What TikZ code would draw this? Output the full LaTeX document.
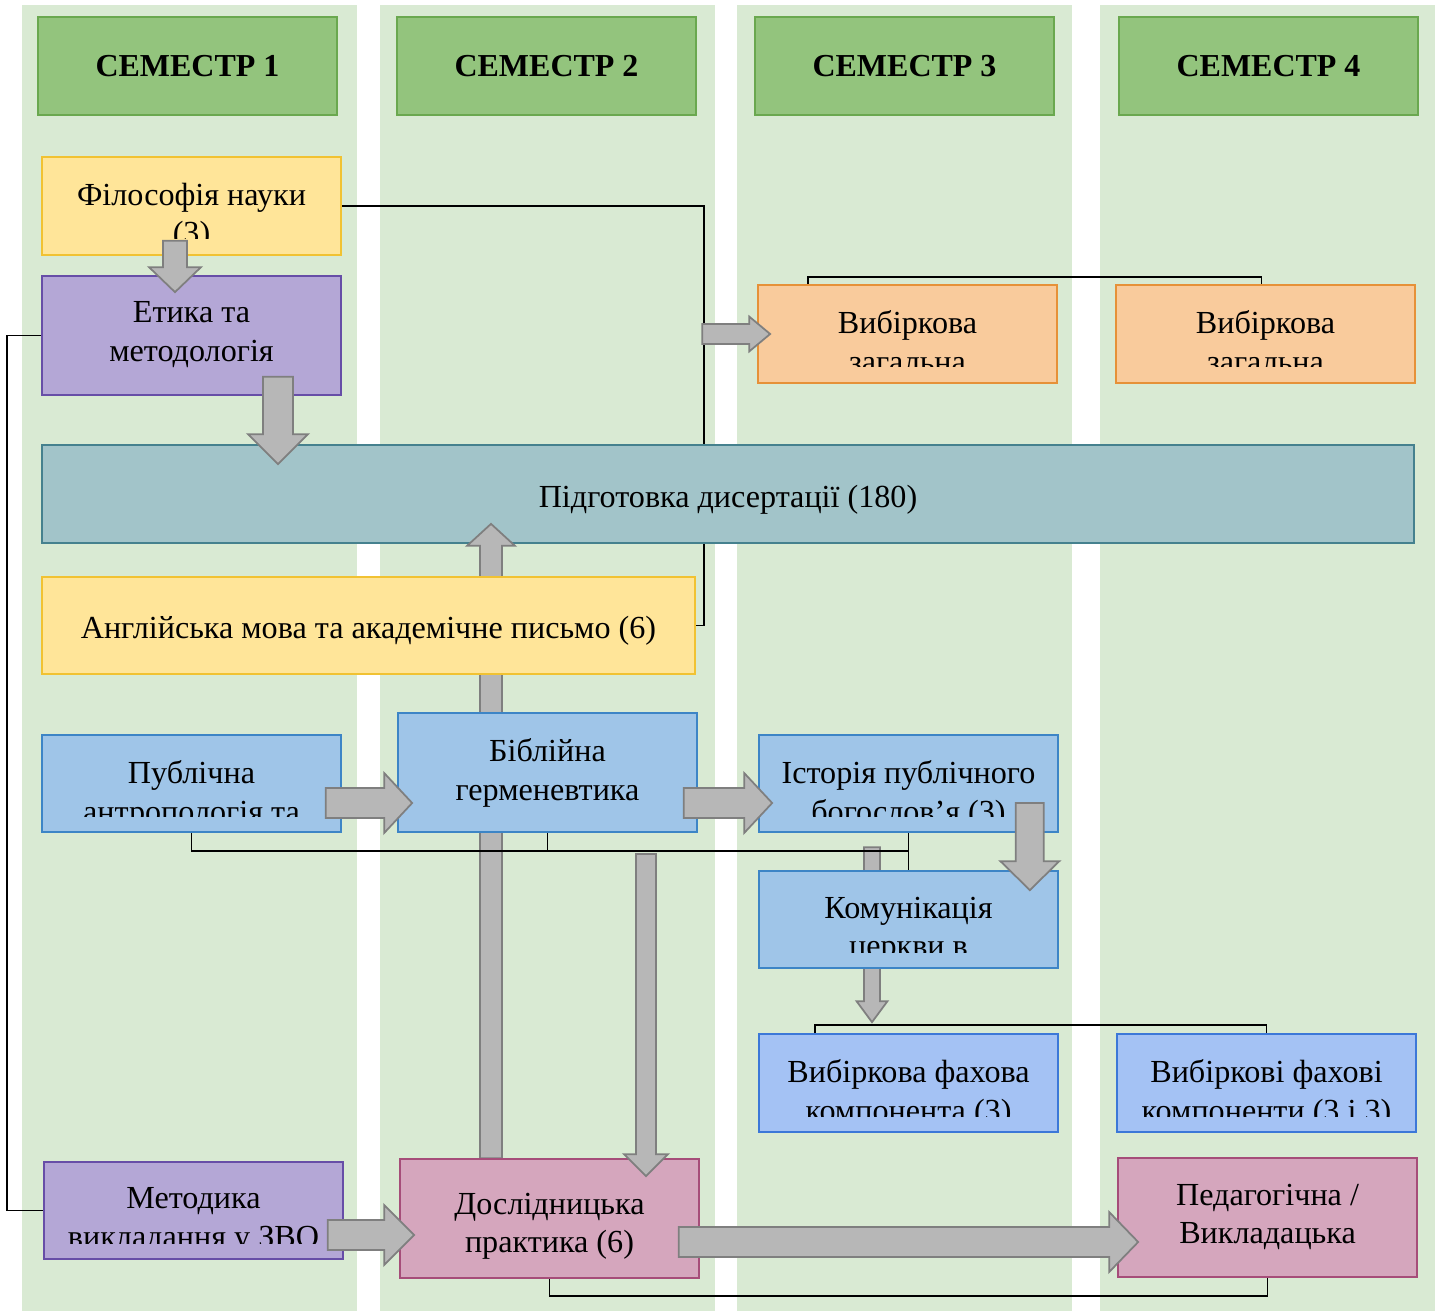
\documentclass[tikz,border=0pt]{standalone}
\usepackage{fontspec}
\setmainfont{Liberation Serif}
\usepackage{tikz}
\usetikzlibrary{calc, positioning}
\pgfdeclarelayer{back}
\pgfsetlayers{back,main}
\definecolor{colbg}{HTML}{D9EAD3}
\definecolor{hdrfill}{HTML}{93C47D}
\definecolor{hdrline}{HTML}{6AA84F}
\definecolor{yelfill}{HTML}{FFE599}
\definecolor{yelline}{HTML}{F1C232}
\definecolor{purfill}{HTML}{B4A7D6}
\definecolor{purline}{HTML}{674EA7}
\definecolor{orafill}{HTML}{F9CB9C}
\definecolor{oraline}{HTML}{E69138}
\definecolor{tealfill}{HTML}{A2C4C9}
\definecolor{tealline}{HTML}{45818E}
\definecolor{bluefill}{HTML}{9FC5E8}
\definecolor{blueline}{HTML}{3D85C6}
\definecolor{cornfill}{HTML}{A4C2F4}
\definecolor{cornline}{HTML}{3C78D8}
\definecolor{pinkfill}{HTML}{D5A6BD}
\definecolor{pinkline}{HTML}{A64D79}
\definecolor{arrfill}{HTML}{B7B7B7}
\definecolor{arrline}{HTML}{7F7F7F}
\newcommand{\boxfont}{\fontsize{18.3}{21.8}\selectfont}
\tikzstyle{semhead} = [rectangle, draw=hdrline, fill=hdrfill, line width=1pt, minimum width=5.98cm, minimum height=1.96cm, font=\bfseries\fontsize{18.2}{21.8}\selectfont]
\tikzstyle{box} = [rectangle, line width=1pt, minimum width=5.98cm, minimum height=1.96cm, inner sep=0pt, font=\boxfont]
\tikzstyle{yelbox} = [box, draw=yelline, fill=yelfill]
\tikzstyle{purbox} = [box, draw=purline, fill=purfill]
\tikzstyle{orabox} = [box, draw=oraline, fill=orafill]
\tikzstyle{bluebox} = [box, draw=blueline, fill=bluefill]
\tikzstyle{cornbox} = [box, draw=cornline, fill=cornfill]
\tikzstyle{pinkbox} = [box, draw=pinkline, fill=pinkfill, minimum height=2.38cm]
\tikzstyle{link} = [line width=1.1pt, black]
\tikzstyle{barrow} = [fill=arrfill, draw=arrline, line width=1pt]
\tikzset{lbl/.style 2 args={path picture={
  \clip ([yshift=0.32cm]path picture bounding box.south west) rectangle (path picture bounding box.north east);
  \node[anchor=north, align=center, inner sep=0pt, draw=none, fill=none, minimum width=0pt, minimum height=0pt, font=\boxfont]
    at ([yshift=-#1]path picture bounding box.north) {#2};}}}
% block arrow: start, tip, shaft half width, head half width, head length
\newcommand{\blockarrow}[5]{%
  \coordinate (ba-s) at (#1);
  \coordinate (ba-t) at (#2);
  \coordinate (ba-h) at ($(ba-t)!#5!(ba-s)$);
  \draw[barrow] ($(ba-s)!#3!90:(ba-t)$) -- ($(ba-h)!#3!90:(ba-t)$) -- ($(ba-h)!#4!90:(ba-t)$) -- (ba-t)
    -- ($(ba-h)!#4!-90:(ba-t)$) -- ($(ba-h)!#3!-90:(ba-t)$) -- ($(ba-s)!#3!-90:(ba-t)$) -- cycle;}

\begin{document}
\begin{tikzpicture}[x=0.02cm, y=-0.02cm]
\useasboundingbox (0,0) rectangle (1442,1311);
% semester columns
\begin{pgfonlayer}{back}
\fill[white] (0,0) rectangle (1442,1311);
\foreach \x in {22,380,737,1100}
  \fill[colbg] (\x,5) rectangle ++(335,1306);
\end{pgfonlayer}
\foreach \i/\x in {1/187.5,2/546.5,3/904.5,4/1268.5}
  \node (sem\i) [semhead] at (\x,66) {СЕМЕСТР \i};

% boxes
\node (phil) [yelbox, lbl={0.5cm}{Філософія науки\\(3)}] at (191.5,206) {};
\node (eth) [purbox, minimum height=2.38cm, lbl={0.5cm}{Етика та\\методологія}] at (191.5,335.5) {};
\node (vz1) [orabox, lbl={0.5cm}{Вибіркова\\загальна}] at (907.5,334) {};
\node (vz2) [orabox, lbl={0.5cm}{Вибіркова\\загальна}] at (1265.5,334) {};
\node (eng) [yelbox, minimum width=13.06cm, minimum height=1.94cm, lbl={0.76cm}{Англійська мова та академічне письмо (6)}] at (368.5,625.5) {};
\node (pub) [bluebox, minimum height=1.94cm, lbl={0.5cm}{Публічна\\антропологія та}] at (191.5,783.5) {};
\node (bib) [bluebox, minimum height=2.38cm, lbl={0.5cm}{Біблійна\\герменевтика}] at (547.5,772.5) {};
\node (hist) [bluebox, minimum height=1.94cm, lbl={0.5cm}{Історія публічного\\богослов’я (3)}] at (908.5,783.5) {};
\node (comm) [bluebox, minimum height=1.94cm, lbl={0.5cm}{Комунікація\\церкви в}] at (908.5,919.5) {};
\node (vf1) [cornbox, lbl={0.5cm}{Вибіркова фахова\\компонента (3)}] at (908.5,1083) {};
\node (vf2) [cornbox, lbl={0.5cm}{Вибіркові фахові\\компоненти (3 і 3)}] at (1266.5,1083) {};
\node (met) [purbox, minimum height=1.94cm, lbl={0.5cm}{Методика\\викладання у ЗВО}] at (193.5,1210.5) {};
\node (prac) [pinkbox, lbl={0.66cm}{Дослідницька\\практика (6)}] at (549.5,1218.5) {};
\node (ped) [pinkbox, lbl={0.5cm}{Педагогічна /\\Викладацька}] at (1267.5,1217.5) {};

% dissertation bar with the line and arrows behind the boxes
\begin{pgfonlayer}{back}
\draw[link] (phil.east) -- ++(362,0) |- (eng.east);
\node (diss) [box, draw=tealline, fill=tealfill, minimum width=27.44cm, lbl={0.78cm}{Підготовка дисертації (180)}] at (728,494) {};
\blockarrow{$(prac.north)+(-58.5,0)$}{$(diss.south)+(-237,-20)$}{0.22cm}{0.48cm}{0.44cm}
\blockarrow{$(comm.north)+(-36.5,-23)$}{$(vf1.north)+(-36.5,-11)$}{0.16cm}{0.31cm}{0.42cm}
\end{pgfonlayer}

% connecting lines
\draw[link] (eth.west) -- ++(-34,0) |- (met.west);
\draw[link] ($(vz1.north west)+(51,0)$) -- ++(0,-7) -| ([xshift=-0.08cm]vz2.north);
\draw[link] (pub.south) -- ++(0,18) -| (hist.south);
\draw[link] (bib.south) -- ++(0,18);
\draw[link] (hist.south) -- (comm.north);
\draw[link] ($(vf1.north west)+(57,0)$) -- ++(0,-8) -| (vf2.north);
\draw[link] (prac.south) -- ++(0,17) -| (ped.south);

% block arrows on top
\blockarrow{$(phil.south)+(-16.5,-15)$}{$(eth.north)+(-16.5,17)$}{0.24cm}{0.52cm}{0.5cm}
\blockarrow{$(eth.south)+(86.5,-19)$}{$(diss.north)+(-450,20)$}{0.3cm}{0.6cm}{0.6cm}
\blockarrow{$(vz1.west)+(-55,0)$}{$(vz1.west)+(13,0)$}{0.2cm}{0.35cm}{0.42cm}
\blockarrow{$(bib.south)+(98.5,21)$}{$(prac.north)+(96.5,18)$}{0.2cm}{0.44cm}{0.44cm}
\blockarrow{$(pub.east)+(-16,19.5)$}{$(bib.west)+(15,30.5)$}{0.3cm}{0.6cm}{0.56cm}
\blockarrow{$(bib.east)+(-14,30.5)$}{$(hist.west)+(14,19.5)$}{0.3cm}{0.6cm}{0.56cm}
\blockarrow{$(hist.south east)+(-29,-30)$}{$(comm.north east)+(-29,20)$}{0.28cm}{0.59cm}{0.58cm}
\blockarrow{$(met.east)+(-16,24.5)$}{$(prac.west)+(15,16.5)$}{0.3cm}{0.6cm}{0.6cm}
\blockarrow{$(prac.east)+(-21,23.5)$}{$(ped.west)+(21,24.5)$}{0.3cm}{0.6cm}{0.58cm}
\end{tikzpicture}
\end{document}
